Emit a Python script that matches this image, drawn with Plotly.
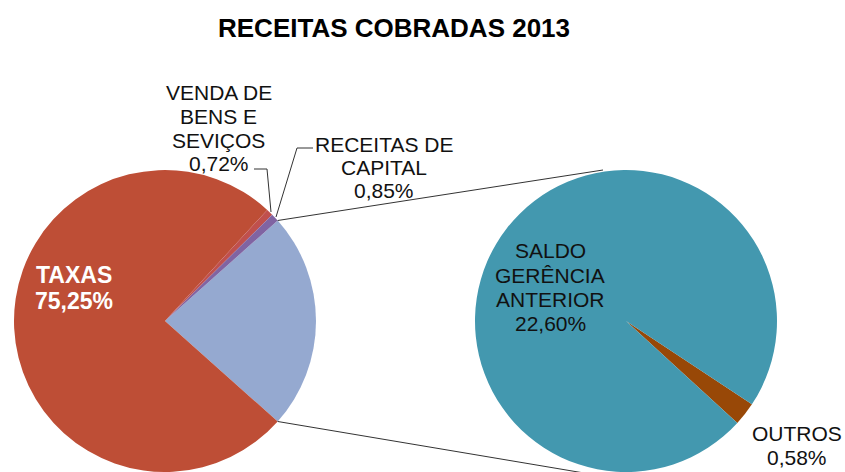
import plotly.graph_objects as go
import math

W, H = 845, 472

title_text = "RECEITAS COBRADAS 2013"

# main pie categories
main_labels = ["TAXAS", "VENDA DE BENS E SEVIÇOS", "RECEITAS DE CAPITAL"]
main_values = [75.25, 0.72, 0.85]
main_colors = ["#BE4E36", "#C0504D", "#8064A2"]

# secondary pie categories (detail of the "other" slice)
sub_labels = ["OUTROS", "SALDO GERÊNCIA ANTERIOR"]
sub_values = [0.58, 22.60]
sub_colors = ["#984807", "#4398AF"]
other_color = "#95A9D0"

other_value = sum(sub_values)


def pct(v):
    return f"{v:.2f}".replace(".", ",") + "%"


def px(x, y):
    return x / W, 1 - y / H


# geometry (pixels)
L_CX, L_CY, R = 165, 321, 151
R_CX, R_CY = 626, 321

left_labels = ["Outra"] + main_labels
left_values = [other_value] + main_values
left_colors = [other_color] + main_colors
total = sum(left_values)
half_angle = other_value / total * 180.0

fig = go.Figure()
fig.add_trace(go.Pie(
    labels=left_labels, values=left_values, sort=False, direction="clockwise",
    rotation=90 - half_angle, textinfo="none", hoverinfo="label+percent",
    marker=dict(colors=left_colors, line=dict(width=0)),
    domain=dict(x=[(L_CX - R) / W, (L_CX + R) / W], y=[(H - L_CY - R) / H, (H - L_CY + R) / H]),
    showlegend=False,
))
fig.add_trace(go.Pie(
    labels=sub_labels, values=sub_values, sort=False, direction="clockwise",
    rotation=123.5, textinfo="none", hoverinfo="label+percent",
    marker=dict(colors=sub_colors, line=dict(width=0)),
    domain=dict(x=[(R_CX - R) / W, (R_CX + R) / W], y=[(H - R_CY - R) / H, (H - R_CY + R) / H]),
    showlegend=False,
))

FONT = "Liberation Sans, Arial, sans-serif"
ann = []


def add_text(lines, cx, ys, size=21, color="#111111", bold=False):
    for t, y in zip(lines, ys):
        x0, y0 = px(cx, y)
        ann.append(dict(x=x0, y=y0, xref="paper", yref="paper", text=f"<b>{t}</b>" if bold else t,
                        showarrow=False, xanchor="center", yanchor="middle",
                        font=dict(family=FONT, size=size, color=color)))


add_text([title_text], 394, [28], size=26, color="#000000", bold=True)
add_text(["TAXAS", pct(main_values[0])], 74, [275, 301], size=23, color="#FFFFFF", bold=True)
add_text(["VENDA DE", "BENS E", "SEVIÇOS", pct(main_values[1])], 219, [92, 116, 140, 164])
add_text(["RECEITAS DE", "CAPITAL", pct(main_values[2])], 384, [145, 168, 191])
add_text(["SALDO", "GERÊNCIA", "ANTERIOR", pct(sub_values[1])], 550, [250, 275, 299, 323])
add_text(["OUTROS", pct(sub_values[0])], 797, [433, 457])

th = math.radians(half_angle)
up = (L_CX + R * math.cos(th), L_CY - R * math.sin(th))
dn = (L_CX + R * math.cos(th), L_CY + R * math.sin(th))

shapes = []


def path(points, color="#333333"):
    d = ""
    for i, (x, y) in enumerate(points):
        xx, yy = px(x, y)
        d += ("M" if i == 0 else "L") + f"{xx},{yy} "
    shapes.append(dict(type="path", path=d.strip(), xref="paper", yref="paper",
                       line=dict(color=color, width=1)))


path([up, (603, 170)])
path([dn, (590, 474)])
path([(254, 169), (267, 169), (271, 212)])
path([(313, 148), (297, 148), (276, 217)])

fig.update_layout(
    width=W, height=H, margin=dict(l=0, r=0, t=0, b=0),
    paper_bgcolor="#FFFFFF", plot_bgcolor="#FFFFFF",
    annotations=ann, shapes=shapes,
)

fig.write_html("out.html", config={"displayModeBar": False},
               post_script="document.body.style.margin='0';")
